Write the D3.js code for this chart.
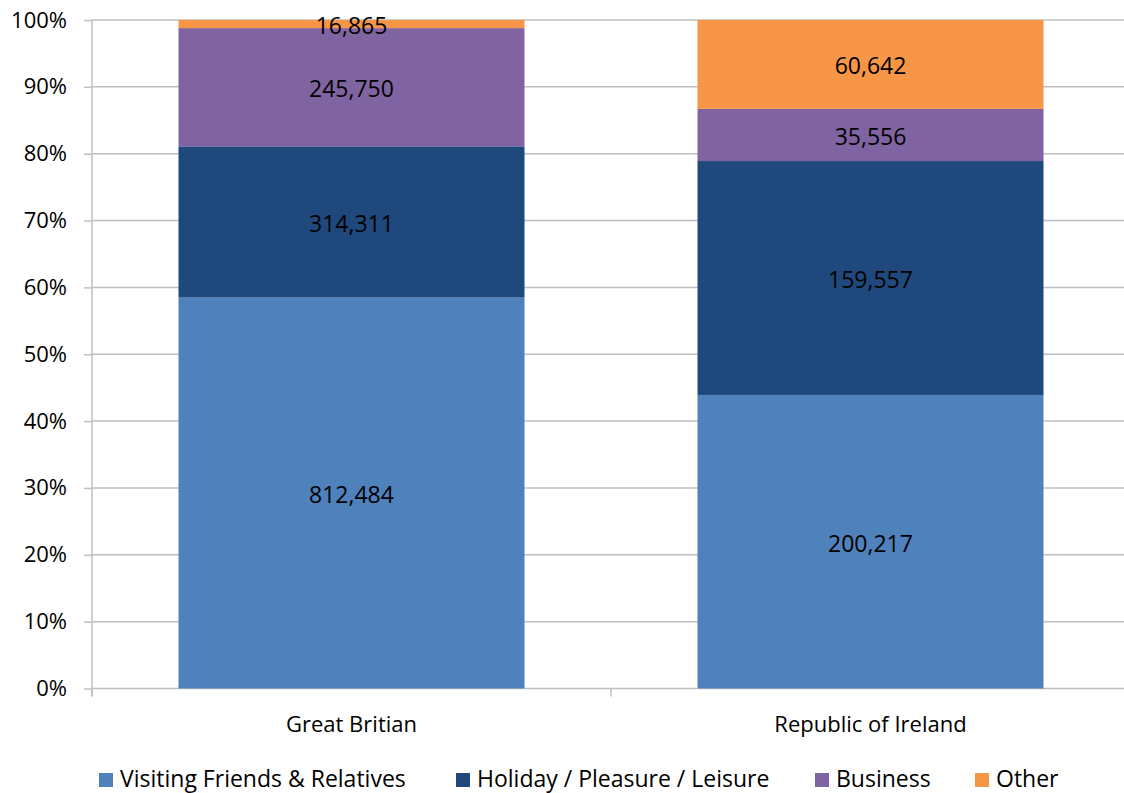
<!DOCTYPE html>
<html><head><meta charset="utf-8">
<script src="https://cdn.jsdelivr.net/npm/d3@7"></script>
<style>body{margin:0;background:#fff}svg{display:block}text{font-family:"Open Sans",sans-serif;fill:#000}</style>
</head><body><svg id="c" width="1124" height="793"></svg>
<script>
const categories = ["Great Britian", "Republic of Ireland"];
const seriesNames = ["Visiting Friends & Relatives", "Holiday / Pleasure / Leisure", "Business", "Other"];
const vfr = [812484, 200217];
const holiday = [314311, 159557];
const business = [245750, 35556];
const other = [16865, 60642];
const yTicks = [0, 0.1, 0.2, 0.3, 0.4, 0.5, 0.6, 0.7, 0.8, 0.9, 1];
const colors = ["#4F81BD", "#1F497D", "#8064A2", "#F79646"];

(function () {
const series = [vfr, holiday, business, other];
const svg = d3.select("#c");
const pl = 92, pr = 1130, pt = 20, pb = 688.5;
const x = d3.scaleBand().domain(categories).range([pl, pr]).paddingInner(1/3).paddingOuter(1/6);
const y = d3.scaleLinear().domain([0, 1]).range([pb, pt]);
const fs = 22, fsL = 23;

svg.append("g").selectAll("line").data(yTicks).join("line")
  .attr("x1", pl).attr("x2", pr).attr("y1", d => y(d)).attr("y2", d => y(d))
  .attr("stroke", "#C0C0C0").attr("stroke-width", 1.5);

const rows = categories.map((c, i) => {
  const o = {cat: c}; seriesNames.forEach((s, j) => o[s] = series[j][i]); return o;
});
const stacked = d3.stack().keys(seriesNames).offset(d3.stackOffsetExpand)(rows);
const g = svg.append("g");
stacked.forEach((layer, j) => {
  g.selectAll(null).data(layer).join("rect")
    .attr("x", d => x(d.data.cat)).attr("width", x.bandwidth())
    .attr("y", d => y(d[1])).attr("height", d => y(d[0]) - y(d[1]))
    .attr("fill", colors[j]);
});
stacked.forEach((layer, j) => {
  g.selectAll(null).data(layer).join("text")
    .attr("x", d => x(d.data.cat) + x.bandwidth() / 2)
    .attr("y", d => (y(d[0]) + y(d[1])) / 2 + 1)
    .attr("text-anchor", "middle").attr("dominant-baseline", "central")
    .attr("font-size", fsL)
    .text(d => d3.format(",")(d.data[layer.key]));
});

const ya = svg.append("g").attr("transform", `translate(${pl},0)`)
  .call(d3.axisLeft(y).tickValues(yTicks).tickFormat(d3.format(".0%")).tickSize(8).tickPadding(17));
ya.select(".domain").attr("stroke", "#C0C0C0").attr("stroke-width", 1.5).attr("d", `M0,${pt}V${pb + 8}`);
ya.selectAll(".tick line").attr("stroke", "#C0C0C0").attr("stroke-width", 1.5);
ya.selectAll(".tick text").attr("font-size", fs).attr("fill", "#000").attr("font-family", '"Open Sans",sans-serif');

const sepX = [pl, (x(categories[0]) + x.bandwidth() + x(categories[1])) / 2, pr];
svg.append("g").selectAll("line").data(sepX).join("line")
  .attr("x1", d => d).attr("x2", d => d).attr("y1", pb).attr("y2", pb + 8)
  .attr("stroke", "#C0C0C0").attr("stroke-width", 1.5);
svg.append("g").selectAll("text").data(categories).join("text")
  .attr("x", d => x(d) + x.bandwidth() / 2).attr("y", 723)
  .attr("text-anchor", "middle").attr("dominant-baseline", "central")
  .attr("font-size", fs).text(d => d);

const legX = [99, 456, 815, 975];
const lg = svg.append("g");
seriesNames.forEach((s, j) => {
  lg.append("rect").attr("x", legX[j]).attr("y", 773).attr("width", 14).attr("height", 14).attr("fill", colors[j]);
  lg.append("text").attr("x", legX[j] + 21).attr("y", 778).attr("dominant-baseline", "central")
    .attr("font-size", fsL).text(s);
});
})();
</script></body></html>
